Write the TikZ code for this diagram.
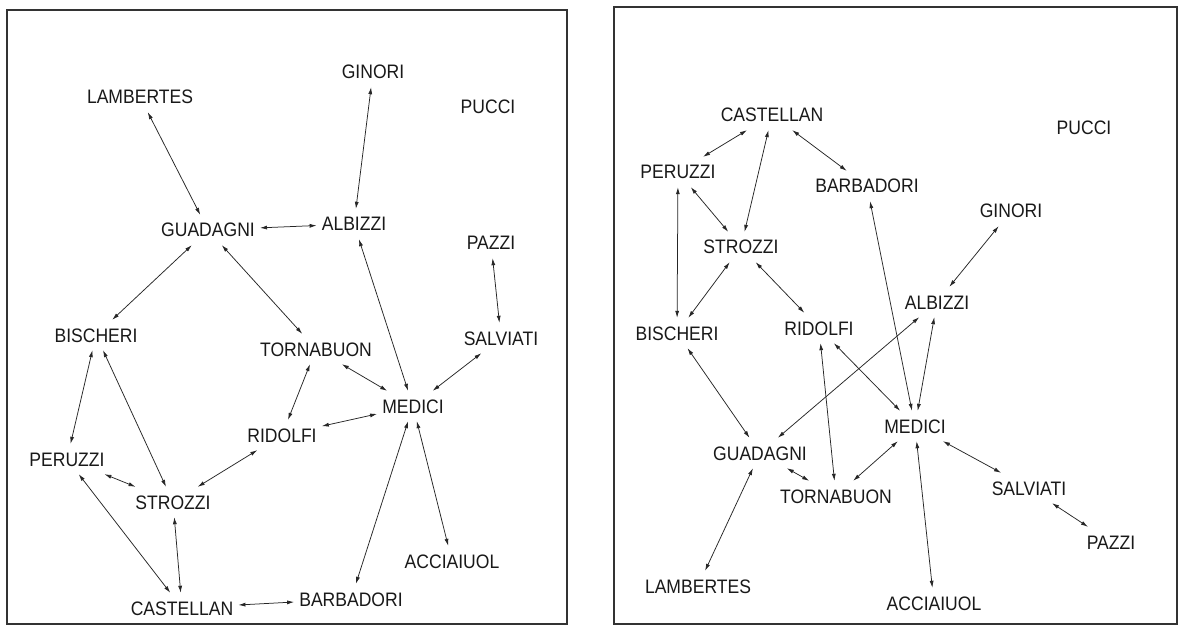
\documentclass[tikz,border=0pt]{standalone}
\usepackage{fontspec}
\setmainfont{Liberation Sans}[FakeStretch=0.9]
\usetikzlibrary{arrows.meta}
\begin{document}
\begin{tikzpicture}[x=1pt,y=-1pt,
  fam/.style={font=\fontsize{19.5}{19.5}\selectfont, text=black!90, inner xsep=5pt, inner ysep=8pt, text height=14pt, text depth=0pt},
  link/.style={{Latex[length=7pt,width=4pt]}-{Latex[length=7pt,width=4pt]}, line width=0.75pt, draw=black!85},
  frame/.style={draw=black!80, line width=1.8pt}]
\useasboundingbox (0,0) rectangle (1183,628);
\fill[white] (0,0) rectangle (1183,628);
% frames
\draw[frame] (7,10) rectangle (567,624);
\draw[frame] (614,7) rectangle (1177,624);
% ---------- left panel ----------
\node[fam] (lgin) at (373,72) {GINORI};
\node[fam] (llam) at (140,97) {LAMBERTES};
\node[fam] (lpuc) at (488,107) {PUCCI};
\node[fam] (lgua) at (208,230) {GUADAGNI};
\node[fam] (lalb) at (354,224) {ALBIZZI};
\node[fam] (lpaz) at (491,243) {PAZZI};
\node[fam] (lbis) at (96,335) {BISCHERI};
\node[fam] (ltor) at (316,349) {TORNABUON};
\node[fam] (lsal) at (501,338) {SALVIATI};
\node[fam] (lmed) at (413,406) {MEDICI};
\node[fam] (lrid) at (282,435) {RIDOLFI};
\node[fam] (lper) at (67,459) {PERUZZI};
\node[fam] (lstr) at (173,502) {STROZZI};
\node[fam] (lacc) at (452,561) {ACCIAIUOL};
\node[fam] (lbar) at (351,599) {BARBADORI};
\node[fam] (lcas) at (182,608) {CASTELLAN};
\draw[link] (llam) -- (lgua);
\draw[link] (lgin) -- (lalb);
\draw[link] (lgua) -- (lalb);
\draw[link] (lpaz) -- (lsal);
\draw[link] (lgua) -- (lbis);
\draw[link] (lgua) -- (ltor);
\draw[link] (lalb) -- (lmed);
\draw[link] (lsal) -- (lmed);
\draw[link] (ltor) -- (lmed);
\draw[link] (ltor) -- (lrid);
\draw[link] (lrid) -- (lmed);
\draw[link] (lbis) -- (lper);
\draw[link] (lbis) -- (lstr);
\draw[link] (lper) -- (lstr);
\draw[link] (lrid) -- (lstr);
\draw[link] (lper) -- (lcas);
\draw[link] (lstr) -- (lcas);
\draw[link] (lcas) -- (lbar);
\draw[link] (lmed) -- (lbar);
\draw[link] (lmed) -- (lacc);
% ---------- right panel ----------
\node[fam] (rcas) at (772,115) {CASTELLAN};
\node[fam] (rpuc) at (1084,128) {PUCCI};
\node[fam] (rper) at (678,172) {PERUZZI};
\node[fam] (rbar) at (867,186) {BARBADORI};
\node[fam] (rgin) at (1011,211) {GINORI};
\node[fam] (rstr) at (741,247) {STROZZI};
\node[fam] (ralb) at (937,302) {ALBIZZI};
\node[fam] (rbis) at (677,333) {BISCHERI};
\node[fam] (rrid) at (819,328) {RIDOLFI};
\node[fam] (rmed) at (915,426) {MEDICI};
\node[fam] (rgua) at (760,453) {GUADAGNI};
\node[fam] (rtor) at (836,496) {TORNABUON};
\node[fam] (rsal) at (1029,488) {SALVIATI};
\node[fam] (rpaz) at (1111,542) {PAZZI};
\node[fam] (rlam) at (698,586) {LAMBERTES};
\node[fam] (racc) at (934,603) {ACCIAIUOL};
\draw[link] (rcas) -- (rper);
\draw[link] (rcas) -- (rstr);
\draw[link] (rcas) -- (rbar);
\draw[link] (rper) -- (rstr);
\draw[link] (rper) -- (rbis);
\draw[link] (rstr) -- (rbis);
\draw[link] (rstr) -- (rrid);
\draw[link] (rgin) -- (ralb);
\draw[link] (rbar) -- (rmed);
\draw[link] (ralb) -- (rmed);
\draw[link] (ralb) -- (rgua);
\draw[link] (rrid) -- (rmed);
\draw[link] (rrid) -- (rtor);
\draw[link] (rbis) -- (rgua);
\draw[link] (rgua) -- (rtor);
\draw[link] (rtor) -- (rmed);
\draw[link] (rgua) -- (rlam);
\draw[link] (rmed) -- (rsal);
\draw[link] (rmed) -- (racc);
\draw[link] (rsal) -- (rpaz);
\end{tikzpicture}
\end{document}
